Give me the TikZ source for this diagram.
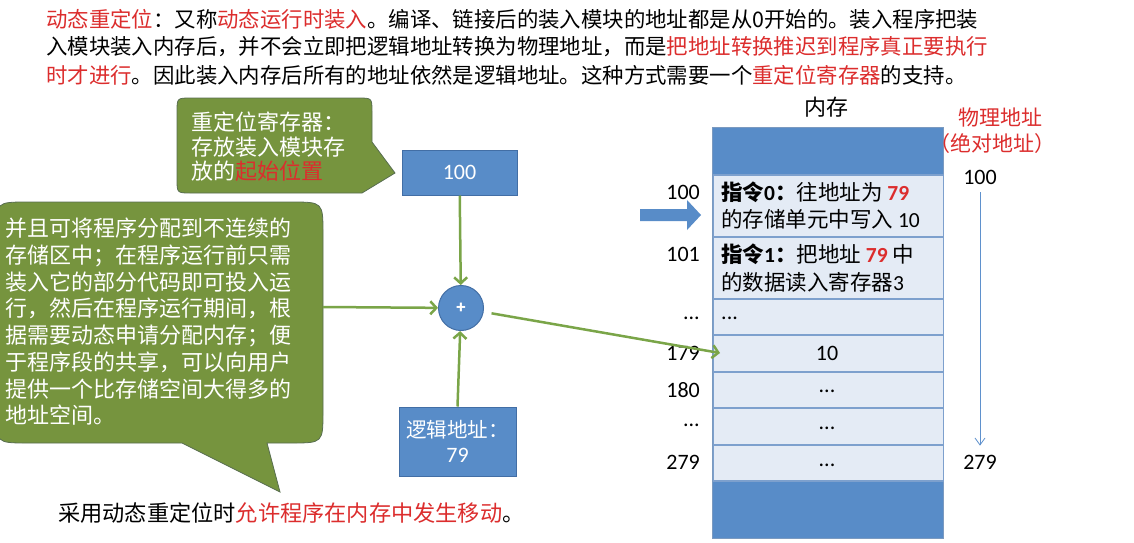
\documentclass[tikz,border=0pt]{standalone}
\usepackage{fontspec}
\setmainfont{Noto Sans CJK SC}
\newfontfamily\num{Carlito}
\usetikzlibrary{arrows.meta}
\definecolor{myred}{RGB}{220,45,45}
\definecolor{boxblue}{RGB}{88,140,200}
\definecolor{boxborder}{RGB}{66,110,165}
\definecolor{cellfill}{RGB}{228,235,245}
\definecolor{cellborder}{RGB}{125,160,205}
\definecolor{olive}{RGB}{118,148,62}
\definecolor{olivebd}{RGB}{88,110,80}
\definecolor{lgreen}{RGB}{122,165,72}
\definecolor{thinblue}{RGB}{95,145,205}
\begin{document}
\begin{tikzpicture}[x=1pt,y=-1pt,
  toptxt/.style={anchor=west,inner sep=0,font=\fontsize{21.4}{28}\selectfont},
  bluebox/.style={draw=boxborder,fill=boxblue,line width=1pt,inner sep=0,text=white,align=center},
  cell/.style={draw=cellborder,fill=cellfill,line width=1.5pt,minimum width=230,inner sep=0},
  celltxt/.style={anchor=west,inner sep=0,font=\fontsize{21.5}{26}\selectfont},
  addr/.style={inner sep=0,font=\num\fontsize{22}{24}\selectfont},
  garrow/.style={draw=lgreen,line width=2.5pt,-{Straight Barb[length=6pt,width=13pt,line width=2.5pt]}},
  callout/.style={fill=olive,draw=olivebd,line width=0.8pt}
]
\fill[white] (0,0) rectangle (1134,542);
\useasboundingbox (0,0) rectangle (1134,542);

% top text
\node[toptxt] (t1) at (46,19) {\textcolor{myred}{动态重定位}：又称\textcolor{myred}{动态运行时装入}。编译、链接后的装入模块的地址都是从0开始的。装入程序把装};
\node[toptxt] (t2) at (46,47) {入模块装入内存后，并不会立即把逻辑地址转换为物理地址，而是\textcolor{myred}{把地址转换推迟到程序真正要执行}};
\node[toptxt] (t3) at (46,75) {\textcolor{myred}{时才进行}。因此装入内存后所有的地址依然是逻辑地址。这种方式需要一个\textcolor{myred}{重定位寄存器}的支持。};

% callout 1
\path[callout] (191,98) -- (358,98) .. controls (372,98) .. (372,112) -- (372,142) -- (395,173) -- (362,193) -- (191,193) .. controls (177,193) .. (177,179) -- (177,112) .. controls (177,98) .. (191,98) -- cycle;
\node[anchor=north west,inner sep=0,align=left,text=white,font=\fontsize{22}{24.5}\selectfont] (c1txt) at (191,112) {重定位寄存器：\\存放装入模块存\\放的\textcolor{myred}{起始位置}};

% callout 2
\path[callout] (28,202) -- (291,202) .. controls (323,202) .. (323,234) -- (323,411) .. controls (323,443) .. (291,443) -- (267,443) -- (280,492) -- (182,443) -- (28,443) .. controls (-4,443) .. (-4,411) -- (-4,234) .. controls (-4,202) .. (28,202) -- cycle;
\node[anchor=north west,inner sep=0,align=left,text=white,font=\fontsize{22}{26.7}\selectfont] (c2txt) at (5,218) {并且可将程序分配到不连续的\\存储区中；在程序运行前只需\\装入它的部分代码即可投入运\\行，然后在程序运行期间，根\\据需要动态申请分配内存；便\\于程序段的共享，可以向用户\\提供一个比存储空间大得多的\\地址空间。};
\coordinate (c2out) at (323,307);

% boxes and adder
\node[bluebox,minimum width=115,minimum height=45,font=\num\fontsize{22}{24}\selectfont] (reg) at (459.5,172.5) {100};
\node[bluebox,minimum width=117,minimum height=69,font=\fontsize{20.5}{25}\selectfont] (logic) at (457.5,441.5) {逻辑地址：\\{\num\fontsize{22}{25}\selectfont 79}};
\node[circle,draw=boxborder,fill=boxblue,line width=1pt,minimum size=45,inner sep=0,text=white,font=\bfseries\fontsize{16}{16}\selectfont] (plus) at (461,308) {+};

% memory
\node[font=\fontsize{22}{26}\selectfont,inner sep=0] (memlbl) at (826,107) {内存};
\fill[boxblue] (712.5,127) rectangle (943.5,538);
\draw[boxborder!70,line width=0.8pt] (712.5,127) rectangle (943.5,538);
\node[cell,minimum height=62,anchor=north west] (m0) at (712.5,174) {};
\node[cell,minimum height=62,anchor=north west] (m1) at (712.5,236) {};
\node[cell,minimum height=36,anchor=north west] (m2) at (712.5,298) {};
\node[cell,minimum height=37,anchor=north west] (m3) at (712.5,334) {};
\node[cell,minimum height=36,anchor=north west] (m4) at (712.5,371) {};
\node[cell,minimum height=37,anchor=north west] (m5) at (712.5,407) {};
\node[cell,minimum height=36,anchor=north west] (m6) at (712.5,444) {};

\node[celltxt] (i0a) at (721,192) {\textbf{指令{\num 0}：}往地址为 \textcolor{myred}{\num\bfseries 79}};
\node[celltxt] (i0b) at (721,219) {的存储单元中写入 {\num 10}};
\node[celltxt] (i1a) at (721,254) {\textbf{指令{\num 1}：}把地址 \textcolor{myred}{\num\bfseries 79} 中};
\node[celltxt] (i1b) at (721,282) {的数据读入寄存器{\num 3}};
\node[addr,anchor=west] (d2) at (721,318) {...};
\node[addr] (v3) at (827,353) {10};
\node[addr] (v4) at (827,391) {...};
\node[addr] (v5) at (827,428) {...};
\node[addr] (v6) at (827,465) {...};

\node[addr,anchor=east] (a0) at (700,192) {100};
\node[addr,anchor=east] (a1) at (700,254) {101};
\node[addr,anchor=east] (a2) at (700,318) {...};
\node[addr,anchor=east] (a3) at (700,353) {179};
\node[addr,anchor=east] (a4) at (700,390) {180};
\node[addr,anchor=east] (a5) at (700,425) {...};
\node[addr,anchor=east] (a6) at (700,462) {279};

% block arrow
\fill[boxblue] (640,209) -- (687,209) -- (687,200) -- (701,215) -- (687,230) -- (687,221) -- (640,221) -- cycle;

% physical address
\node[inner sep=0,text=myred,font=\fontsize{21}{24}\selectfont] (phys) at (1000,118) {物理地址};
\node[inner sep=0,text=myred,font=\fontsize{21}{24}\selectfont] (abs) at (992,144) {（绝对地址）};
\node[addr] (p100) at (980,177) {100};
\node[addr] (p279) at (980,462) {279};
\draw[thinblue,line width=0.8pt,-{Straight Barb[length=7pt,width=10pt,line width=0.8pt]}] ([yshift=-8pt]p100.south) -- ([yshift=9pt]p279.north);

% connectors
\coordinate (t179) at (720,353);
\draw[garrow] (reg) -- (plus);
\draw[garrow] (logic.north) -- (plus);
\draw[garrow] (c2out) -- (plus);
\draw[garrow,shorten <=8pt] (plus) -- (t179);

% bottom text
\node[toptxt,font=\fontsize{22.2}{26}\selectfont] (bot) at (58,513) {采用动态重定位时\textcolor{myred}{允许程序在内存中发生移动}。};
\end{tikzpicture}
\end{document}
